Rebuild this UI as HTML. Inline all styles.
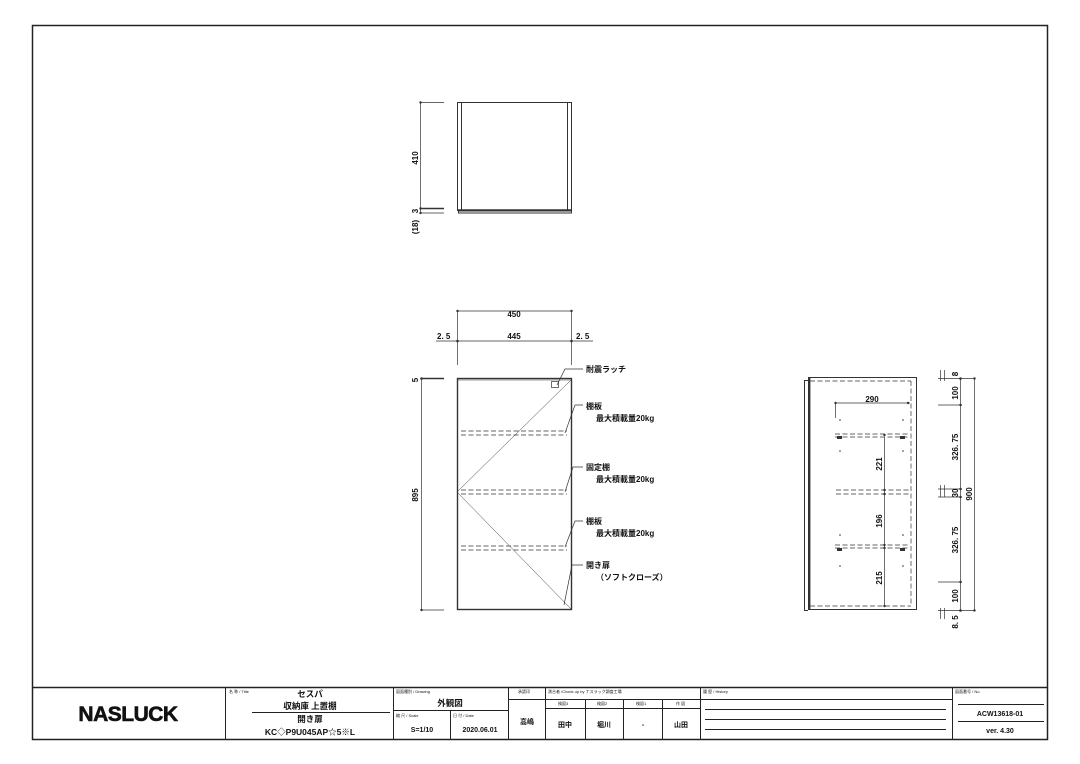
<!DOCTYPE html>
<html><head><meta charset="utf-8"><style>
html,body{margin:0;padding:0;background:#fff}
svg{display:block}
text{font-family:"Liberation Sans","Noto Sans CJK JP",sans-serif;fill:#111}
.b text{font-weight:bold}
</style></head><body>
<svg width="1080" height="764" viewBox="0 0 1080 764" xmlns="http://www.w3.org/2000/svg">
<rect x="0" y="0" width="1080" height="764" fill="#fff"/>
<rect x="32.5" y="25.5" width="1015" height="714" fill="none" stroke="#222" stroke-width="1.5"/>
<g stroke="#222" fill="none" stroke-width="1">
<line x1="32" y1="687.5" x2="1048" y2="687.5" stroke-width="1.5"/>
<line x1="225.5" y1="687" x2="225.5" y2="739"/>
<line x1="393.5" y1="687" x2="393.5" y2="739"/>
<line x1="508.5" y1="687" x2="508.5" y2="739"/>
<line x1="545.5" y1="687" x2="545.5" y2="739"/>
<line x1="700.5" y1="687" x2="700.5" y2="739"/>
<line x1="952.5" y1="687" x2="952.5" y2="739"/>
<line x1="252" y1="712.5" x2="390" y2="712.5"/>
<line x1="393" y1="710.5" x2="508" y2="710.5"/>
<line x1="450.5" y1="710" x2="450.5" y2="739"/>
<line x1="508" y1="699.5" x2="545" y2="699.5"/>
<line x1="545" y1="699.5" x2="700" y2="699.5"/>
<line x1="545" y1="708.5" x2="700" y2="708.5"/>
<line x1="585.5" y1="699" x2="585.5" y2="739"/>
<line x1="623.5" y1="699" x2="623.5" y2="739"/>
<line x1="662.5" y1="699" x2="662.5" y2="739"/>
<line x1="700" y1="699.5" x2="952" y2="699.5"/>
<line x1="705" y1="709.5" x2="946" y2="709.5"/>
<line x1="705" y1="719.5" x2="946" y2="719.5"/>
<line x1="705" y1="729.5" x2="946" y2="729.5"/>
<line x1="958" y1="704.5" x2="1044" y2="704.5"/>
<line x1="958" y1="721.5" x2="1044" y2="721.5"/>
</g>
<text x="128" y="721" font-size="21" font-weight="bold" text-anchor="middle" style="letter-spacing:-0.5px" stroke="#111" stroke-width="0.6">NASLUCK</text>
<g font-size="4">
<text x="229" y="693">名 称 / Title</text>
<text x="396" y="693">図面種別 / Drawing</text>
<text x="396" y="717">縮 尺 / Scale</text>
<text x="453" y="717">日 付 / Date</text>
<text x="518" y="693">承認印</text>
<text x="548" y="693">測合者 /Check up by ナスラック調査工場</text>
<text x="558" y="705">検図3</text><text x="597" y="705">検図2</text><text x="636" y="705">検図1</text><text x="676" y="705">作 図</text>
<text x="703" y="693">履 歴 / History</text>
<text x="955" y="693">図面番号 / No.</text>
</g>
<g font-size="8.5" text-anchor="middle" class="b">
<text x="310" y="697">セスパ</text>
<text x="310" y="709">収納庫 上置棚</text>
<text x="310" y="722">開き扉</text>
<text x="310" y="735">KC◇P9U045AP☆5※L</text>
<text x="450" y="706">外観図</text>
<text x="422" y="732" font-size="7">S=1/10</text>
<text x="480" y="732" font-size="7">2020.06.01</text>
<text x="527" y="724" font-size="7">高嶋</text>
<text x="565" y="727" font-size="7">田中</text>
<text x="604" y="727" font-size="7">堀川</text>
<text x="643" y="727" font-size="7">-</text>
<text x="681" y="727" font-size="7">山田</text>
<text x="1000" y="716" font-size="7">ACW13618-01</text>
<text x="1000" y="733" font-size="7">ver. 4.30</text>
</g>

<g stroke="#333" fill="none" stroke-width="1">
<rect x="457.5" y="102.5" width="114" height="108"/>
<line x1="461.5" y1="103" x2="461.5" y2="210"/>
<line x1="567.5" y1="103" x2="567.5" y2="210"/>
<line x1="458" y1="210" x2="571" y2="210" stroke-width="1.6"/>
<rect x="458.5" y="211" width="113" height="2"/>
<line x1="420" y1="102.5" x2="444" y2="102.5" stroke-width="0.7"/>
<line x1="420.5" y1="102" x2="420.5" y2="213" stroke-width="0.7"/>
<line x1="420" y1="208.5" x2="444" y2="208.5" stroke-width="1.4"/>
<line x1="420" y1="213" x2="444" y2="213" stroke-width="0.7"/>
</g>
<g fill="#333"><circle cx="420.5" cy="102.5" r="1.2"/><circle cx="420.5" cy="208.5" r="1.2"/><circle cx="420.5" cy="213" r="1.2"/></g>
<g font-size="8" class="b">
<text transform="translate(418,158) rotate(-90)" text-anchor="middle">410</text>
<text transform="translate(418,211) rotate(-90)" text-anchor="middle">3</text>
<text transform="translate(418,227) rotate(-90)" text-anchor="middle">(18)</text>
</g>

<g stroke="#333" fill="none" stroke-width="1">
<rect x="457.5" y="378.5" width="114" height="231" stroke-width="1.4"/>
<line x1="458" y1="380" x2="571" y2="380" stroke-width="0.6"/>
<line x1="457" y1="492" x2="571" y2="380" stroke-width="0.5"/>
<line x1="457" y1="492" x2="571" y2="609" stroke-width="0.5"/>
<rect x="551.5" y="381.5" width="7" height="6" stroke-width="0.7"/>
<g stroke-dasharray="5,2.5" stroke-width="0.7">
<line x1="461" y1="431" x2="567" y2="431"/><line x1="461" y1="435" x2="567" y2="435"/>
<line x1="461" y1="490" x2="567" y2="490"/><line x1="461" y1="494" x2="567" y2="494"/>
<line x1="461" y1="546" x2="567" y2="546"/><line x1="461" y1="550" x2="567" y2="550"/>
</g>
<g stroke-width="0.7">
<line x1="457.5" y1="311" x2="572" y2="311"/>
<line x1="436" y1="341" x2="593" y2="341"/>
<line x1="457.5" y1="311" x2="457.5" y2="365"/>
<line x1="571.5" y1="311" x2="571.5" y2="365"/>
<line x1="421" y1="378.5" x2="444" y2="378.5" stroke-width="1.4"/>
<line x1="421.5" y1="378" x2="421.5" y2="610"/>
<line x1="421" y1="610" x2="444" y2="610"/>
<polyline points="557,385 565,369 583,369"/>
<polyline points="565,433 575,405 583,405"/>
<polyline points="565,492 573,467 583,467"/>
<polyline points="565,547 575,521 583,521"/>
<polyline points="564,605 572,565 583,565"/>
</g>
</g>
<g fill="#333"><circle cx="457.5" cy="311" r="1.2"/><circle cx="571.5" cy="311" r="1.2"/><circle cx="457.5" cy="341" r="1.3"/><circle cx="571.5" cy="341" r="1.3"/><circle cx="421.5" cy="378.5" r="1.3"/><circle cx="421.5" cy="610" r="1.2"/></g>
<g font-size="8" class="b">
<text x="514" y="317" text-anchor="middle">450</text>
<text x="514" y="339" text-anchor="middle">445</text>
<text x="437" y="339">2. 5</text>
<text x="576" y="339">2. 5</text>
<text transform="translate(418,380) rotate(-90)" text-anchor="middle">5</text>
<text transform="translate(418,495) rotate(-90)" text-anchor="middle">895</text>
<text x="586" y="372">耐震ラッチ</text>
<text x="586" y="409">棚板</text><text x="596" y="421">最大積載量20kg</text>
<text x="586" y="470">固定棚</text><text x="596" y="482">最大積載量20kg</text>
<text x="586" y="524">棚板</text><text x="596" y="536">最大積載量20kg</text>
<text x="586" y="568">開き扉</text><text x="596" y="580">（ソフトクローズ）</text>
</g>

<g stroke="#333" fill="none" stroke-width="1">
<line x1="804.5" y1="380" x2="804.5" y2="611"/>
<line x1="804" y1="380.5" x2="808" y2="380.5"/><line x1="804" y1="610.5" x2="808" y2="610.5"/>
<rect x="808.5" y="377.5" width="108" height="232"/>
<line x1="809.5" y1="378" x2="809.5" y2="609" stroke-width="1.8"/>
<g stroke-dasharray="5,2.5" stroke-width="0.7">
<line x1="810" y1="381" x2="911" y2="381"/>
<line x1="810" y1="606" x2="911" y2="606"/>
<line x1="911" y1="381" x2="911" y2="606"/>
<line x1="835" y1="434" x2="910" y2="434"/><line x1="835" y1="437" x2="910" y2="437"/>
<line x1="836" y1="490" x2="910" y2="490"/><line x1="836" y1="494" x2="910" y2="494"/>
<line x1="835" y1="545" x2="910" y2="545"/><line x1="835" y1="548" x2="910" y2="548"/>
</g>
<g stroke-width="0.7">
<line x1="835" y1="403" x2="910" y2="403"/>
<line x1="835.5" y1="403" x2="835.5" y2="418"/>
<line x1="884.5" y1="437" x2="884.5" y2="606"/>
<line x1="938" y1="378.5" x2="975" y2="378.5"/>
<line x1="938" y1="610.5" x2="975" y2="610.5"/>
<line x1="960.5" y1="378" x2="960.5" y2="611"/>
<line x1="974.5" y1="378" x2="974.5" y2="611"/>
<line x1="940.5" y1="370" x2="940.5" y2="381"/><line x1="944.5" y1="370" x2="944.5" y2="381"/>
<line x1="940.5" y1="608" x2="940.5" y2="619"/><line x1="944.5" y1="608" x2="944.5" y2="619"/>
<line x1="938" y1="405" x2="962" y2="405"/>
<line x1="938" y1="489" x2="962" y2="489"/><line x1="938" y1="497" x2="962" y2="497"/>
<line x1="938" y1="582" x2="962" y2="582"/>
<line x1="940.5" y1="485" x2="940.5" y2="497"/><line x1="944.5" y1="485" x2="944.5" y2="497"/>
</g>
</g>
<g fill="#333">
<circle cx="835.5" cy="403" r="1.2"/><circle cx="908" cy="403" r="1.2"/>
<rect x="837" y="436" width="5" height="3"/><rect x="900" y="436" width="5" height="3"/>
<rect x="837" y="548" width="5" height="3"/><rect x="900" y="548" width="5" height="3"/>
<circle cx="840" cy="420" r="0.8"/><circle cx="903" cy="420" r="0.8"/>
<circle cx="840" cy="451" r="0.8"/><circle cx="903" cy="451" r="0.8"/>
<circle cx="840" cy="535" r="0.8"/><circle cx="903" cy="535" r="0.8"/>
<circle cx="840" cy="566" r="0.8"/><circle cx="903" cy="566" r="0.8"/>
<circle cx="884.5" cy="435" r="1.2"/><circle cx="884.5" cy="490" r="1.2"/><circle cx="884.5" cy="494" r="1.2"/>
<circle cx="884.5" cy="545" r="1.2"/><circle cx="884.5" cy="548" r="1.2"/><circle cx="884.5" cy="606" r="1.2"/>
<circle cx="960.5" cy="378.5" r="1.3"/><circle cx="974.5" cy="378.5" r="1.2"/><circle cx="960.5" cy="405" r="1.2"/>
<circle cx="960.5" cy="489" r="1.2"/><circle cx="960.5" cy="497" r="1.2"/><circle cx="960.5" cy="582" r="1.2"/>
<circle cx="960.5" cy="610.5" r="1.3"/><circle cx="974.5" cy="610.5" r="1.2"/>
</g>
<g font-size="8" class="b">
<text x="872" y="402" text-anchor="middle">290</text>
<text transform="translate(882,464) rotate(-90)" text-anchor="middle">221</text>
<text transform="translate(882,521) rotate(-90)" text-anchor="middle">196</text>
<text transform="translate(882,578) rotate(-90)" text-anchor="middle">215</text>
<text transform="translate(958,374) rotate(-90)" text-anchor="middle">8</text>
<text transform="translate(958,393) rotate(-90)" text-anchor="middle">100</text>
<text transform="translate(958,447) rotate(-90)" text-anchor="middle">326. 75</text>
<text transform="translate(958,493) rotate(-90)" text-anchor="middle">30</text>
<text transform="translate(958,540) rotate(-90)" text-anchor="middle">326. 75</text>
<text transform="translate(958,596) rotate(-90)" text-anchor="middle">100</text>
<text transform="translate(958,622) rotate(-90)" text-anchor="middle">8. 5</text>
<text transform="translate(972,494) rotate(-90)" text-anchor="middle">900</text>
</g>
</svg>
</body></html>
